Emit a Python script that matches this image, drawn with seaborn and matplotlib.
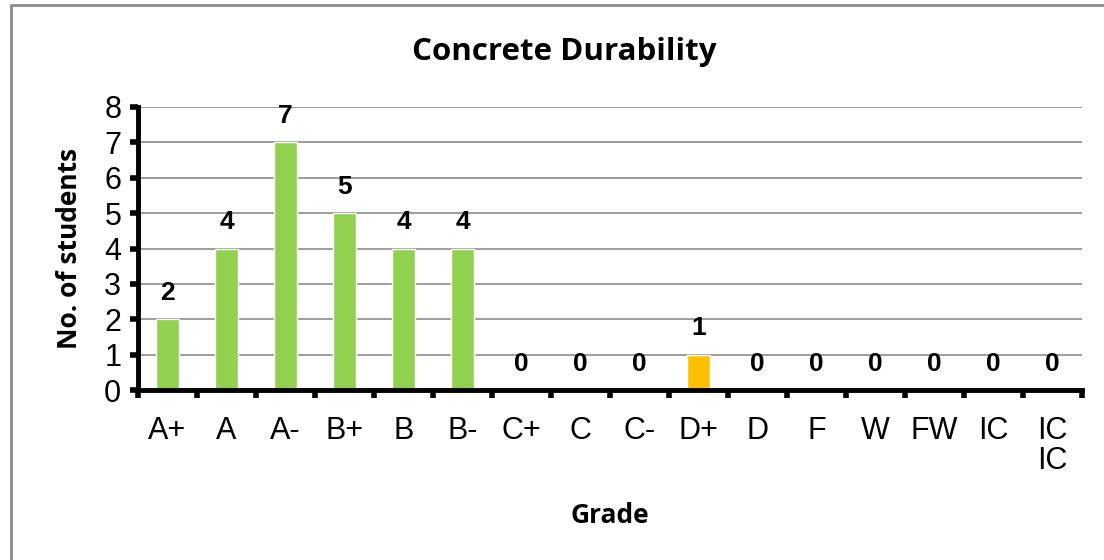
import matplotlib
matplotlib.use("Agg")
import matplotlib.pyplot as plt
import matplotlib.patches as mpatches
import pandas as pd
import seaborn as sns

grades = ["A+", "A", "A-", "B+", "B", "B-", "C+", "C", "C-", "D+",
          "D", "F", "W", "FW", "IC", "IC\nIC"]
students = [2, 4, 7, 5, 4, 4, 0, 0, 0, 1, 0, 0, 0, 0, 0, 0]
bar_colors = ["#92D050"] * 9 + ["#FFC000"] + ["#92D050"] * 6

df = pd.DataFrame({"grade": grades, "students": students})

sns.set_theme(style="white")
plt.rcParams["font.family"] = ["Liberation Sans", "DejaVu Sans"]
plt.rcParams["text.color"] = "black"
plt.rcParams["xtick.color"] = "black"
plt.rcParams["ytick.color"] = "black"
plt.rcParams["axes.labelcolor"] = "black"

fig = plt.figure(figsize=(11.04, 5.6), dpi=100)
ax = fig.add_axes([138 / 1104, 1 - 390 / 560, (1082 - 138) / 1104, (390 - 107) / 560])

sns.barplot(data=df, x="grade", y="students", hue="grade", palette=bar_colors,
            saturation=1, legend=False, width=0.39, ax=ax, zorder=3)

ax.set_ylim(0, 8)
ax.set_xlim(-0.5, len(grades) - 0.5)
ax.set_yticks(range(0, 9))
ax.tick_params(axis="y", labelsize=22, length=6, width=4, color="black",
               direction="out", pad=6, left=True)
ax.yaxis.grid(True, color="#8c8c8c", linewidth=1.2, zorder=0)
ax.set_axisbelow(True)

# tick marks between categories, labels at centres
ax.set_xticks([i - 0.5 for i in range(len(grades) + 1)])
ax.set_xticklabels([])
ax.tick_params(axis="x", which="major", length=6, width=4, color="black",
               direction="out", bottom=True)
ax.set_xticks(range(len(grades)), minor=True)
ax.set_xticklabels(grades, minor=True, fontsize=22, va="top", linespacing=1.0)
ax.tick_params(axis="x", which="minor", length=0, pad=19)

for side in ["top", "right"]:
    ax.spines[side].set_visible(False)
for side in ["left", "bottom"]:
    ax.spines[side].set_color("black")
    ax.spines[side].set_linewidth(3.5)
    ax.spines[side].set_zorder(5)

for i, v in enumerate(students):
    ax.annotate(str(v), (i, v), xytext=(0, 19), textcoords="offset points",
                ha="center", va="center", fontsize=19, fontweight="bold")

ax.set_xlabel("Grade", fontsize=19, fontweight="bold", family="Open Sans", labelpad=0)
ax.xaxis.set_label_coords(0.5, -0.395)
ax.set_ylabel("No. of students", fontsize=19, fontweight="bold", family="Open Sans")
ax.yaxis.set_label_coords(-0.058, 0.5)
fig.text(564 / 1104, 1 - 52 / 560, "Concrete Durability", ha="center", va="center",
         fontsize=22.5, fontweight="bold", family="Open Sans")

fig.patches.append(mpatches.Rectangle((11 / 1104, -0.05), 1.1, 1 - 5 / 560 + 0.05,
                                      transform=fig.transFigure, fill=False,
                                      edgecolor="#8c8c8c", linewidth=2))

fig.savefig("out.png", dpi=100)
